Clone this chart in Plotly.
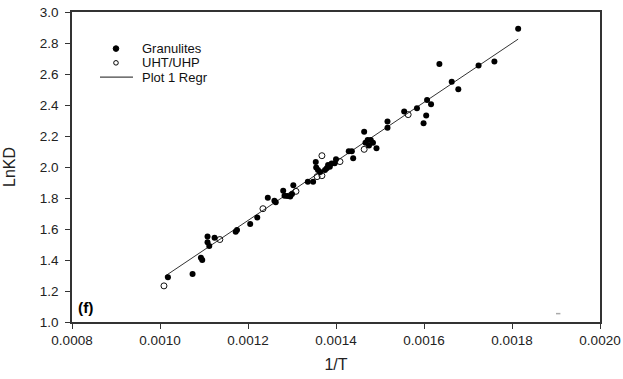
import plotly.graph_objects as go

# Granulites (filled)
gran_x = [0.001018, 0.001074, 0.001093, 0.001096, 0.001108, 0.001108, 0.001112, 0.001124,
          0.001172, 0.001175, 0.001205, 0.001221, 0.001245, 0.001260, 0.001263, 0.001280,
          0.001283, 0.001289, 0.001296, 0.001303, 0.001300, 0.001336, 0.001348, 0.001354,
          0.001355, 0.001359, 0.001364, 0.001375, 0.001379, 0.001382, 0.001386, 0.001390,
          0.001397, 0.001400, 0.001429, 0.001436, 0.001439, 0.001464, 0.001467, 0.001472,
          0.001475, 0.001479, 0.001484, 0.001492, 0.001517, 0.001517, 0.001555, 0.001584,
          0.001599, 0.001605, 0.001607, 0.001616, 0.001635, 0.001663, 0.001678, 0.001724,
          0.001760, 0.001814]
gran_y = [1.289, 1.310, 1.414, 1.400, 1.552, 1.515, 1.490, 1.543,
          1.582, 1.593, 1.632, 1.675, 1.802, 1.782, 1.772, 1.847,
          1.815, 1.813, 1.810, 1.882, 1.826, 1.905, 1.905, 2.032,
          1.996, 1.980, 1.968, 1.980, 1.992, 2.013, 2.002, 2.022,
          2.024, 2.050, 2.101, 2.101, 2.056, 2.228, 2.157, 2.175,
          2.138, 2.175, 2.157, 2.121, 2.293, 2.254, 2.358, 2.379,
          2.282, 2.332, 2.433, 2.405, 2.664, 2.550, 2.502, 2.655,
          2.681, 2.892]

# UHT/UHP (open)
uht_x = [0.001009, 0.001136, 0.001234, 0.001309, 0.001357, 0.001368, 0.001368,
         0.001409, 0.001464, 0.001564]
uht_y = [1.233, 1.532, 1.731, 1.843, 1.938, 1.944, 2.073,
         2.035, 2.114, 2.338]

# Regression line endpoints
reg_x = [0.001011, 0.001814]
reg_y = [1.295, 2.825]

x_ticks = [0.0008, 0.0010, 0.0012, 0.0014, 0.0016, 0.0018, 0.0020]
x_labels = ["0.0008", "0.0010", "0.0012", "0.0014", "0.0016", "0.0018", "0.0020"]
y_ticks = [1.0, 1.2, 1.4, 1.6, 1.8, 2.0, 2.2, 2.4, 2.6, 2.8, 3.0]
y_labels = ["1.0", "1.2", "1.4", "1.6", "1.8", "2.0", "2.2", "2.4", "2.6", "2.8", "3.0"]

FONT = "Liberation Sans, Arial, sans-serif"

fig = go.Figure()
fig.add_trace(go.Scatter(x=reg_x, y=reg_y, mode="lines",
                         line=dict(color="#333333", width=1), name="Plot 1 Regr",
                         showlegend=False))
fig.add_trace(go.Scatter(x=uht_x, y=uht_y, mode="markers", name="UHT/UHP",
                         marker=dict(symbol="circle-open", size=6, color="#111111",
                                     line=dict(width=1)),
                         showlegend=False))
fig.add_trace(go.Scatter(x=gran_x, y=gran_y, mode="markers", name="Granulites",
                         marker=dict(symbol="circle", size=6, color="#000000"),
                         showlegend=False))

# legend drawn manually (paper coordinates)
legend_items = ["Granulites", "UHT/UHP", "Plot 1 Regr"]
ly = [0.882, 0.836, 0.790]
for t, yy in zip(legend_items, ly):
    fig.add_annotation(x=0.129, y=yy, xref="paper", yref="paper", text=t, showarrow=False,
                       xanchor="left", yanchor="middle", font=dict(family=FONT, size=13, color="#111"))
shapes = [
    dict(type="circle", xref="paper", yref="paper", xsizemode="pixel", ysizemode="pixel",
         xanchor=0.0833, yanchor=ly[0], x0=-2.8, x1=2.8, y0=-2.8, y1=2.8,
         fillcolor="black", line=dict(color="black", width=1)),
    dict(type="circle", xref="paper", yref="paper", xsizemode="pixel", ysizemode="pixel",
         xanchor=0.0833, yanchor=ly[1], x0=-2.3, x1=2.3, y0=-2.3, y1=2.3,
         fillcolor="white", line=dict(color="black", width=1)),
    dict(type="line", xref="paper", yref="paper", x0=0.053, x1=0.1155,
         y0=ly[2], y1=ly[2], line=dict(color="#444", width=1.2)),
    # artefacts of the original figure
    dict(type="rect", xref="x", yref="y", x0=0.00199, x1=0.00201, y0=1.06, y1=1.17,
         fillcolor="white", line=dict(width=0), layer="above"),
    dict(type="line", xref="x", yref="y", x0=0.0019, x1=0.00191, y0=1.054, y1=1.054,
         line=dict(color="#aaaaaa", width=1.5)),
]
fig.add_annotation(x=0.0008, y=1.0, xref="x", yref="y", text="<b>(f)</b>", showarrow=False,
                   xanchor="left", yanchor="bottom", xshift=4, yshift=4,
                   font=dict(family=FONT, size=15.5, color="black"))

fig.update_layout(
    width=623, height=379,
    margin=dict(l=72, r=23, t=12, b=57),
    paper_bgcolor="white", plot_bgcolor="white",
    font=dict(family=FONT, size=13.5, color="#222"),
    shapes=shapes,
    xaxis=dict(range=[0.0008, 0.0020], tickvals=x_ticks, ticktext=x_labels, automargin=False,
               showgrid=False, zeroline=False, showline=True, linecolor="#333", linewidth=1.5,
               mirror=True, ticks="outside", ticklen=5, tickcolor="#333", tickwidth=1.2,
               title=dict(text="1/T", font=dict(size=16), standoff=12)),
    yaxis=dict(range=[1.0, 3.0], tickvals=y_ticks, ticktext=y_labels, automargin=False,
               showgrid=False, zeroline=False, showline=True, linecolor="#333", linewidth=1.5,
               mirror=True, ticks="outside", ticklen=5, tickcolor="#333", tickwidth=1.2,
               ticklabelstandoff=4,
               title=dict(text="LnKD", font=dict(size=16), standoff=20)),
)

fig.write_html("out.html", config={"displayModeBar": False},
               post_script="document.body.style.margin='0';document.body.style.overflow='hidden';")
